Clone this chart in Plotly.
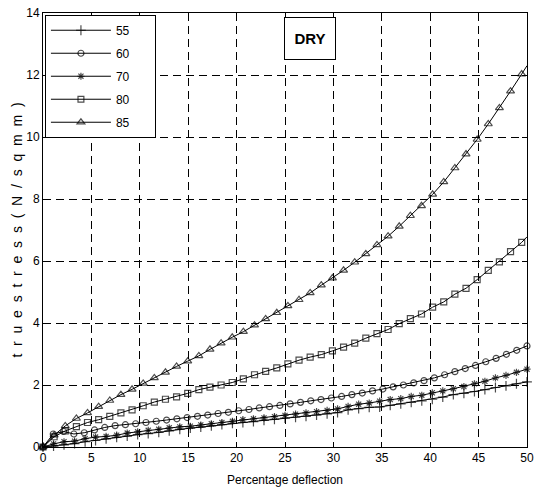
import plotly.graph_objects as go

# x grids (percentage deflection)
x_fine = [0, 1.09, 2.17, 3.26, 4.35, 5.43, 6.52, 7.61, 8.70, 9.78, 10.87, 11.96, 13.04, 14.13,
          15.22, 16.30, 17.39, 18.48, 19.57, 20.65, 21.74, 22.83, 23.91, 25.00, 26.09, 27.17,
          28.26, 29.35, 30.43, 31.52, 32.61, 33.70, 34.78, 35.87, 36.96, 38.04, 39.13, 40.22,
          41.30, 42.39, 43.48, 44.57, 45.65, 46.74, 47.83, 48.91, 50.0]
x_circ = [0, 1.06, 2.13, 3.19, 4.26, 5.32, 6.38, 7.45, 8.51, 9.57, 10.64, 11.70, 12.77, 13.83,
          14.89, 15.96, 17.02, 18.09, 19.15, 20.21, 21.28, 22.34, 23.40, 24.47, 25.53, 26.60,
          27.66, 28.72, 29.79, 30.85, 31.91, 32.98, 34.04, 35.11, 36.17, 37.23, 38.30, 39.36,
          40.43, 41.49, 42.55, 43.62, 44.68, 45.74, 46.81, 47.87, 48.94, 50.0]
x_coarse = [0, 1.15, 2.3, 3.45, 4.6, 5.75, 6.9, 8.05, 9.2, 10.35, 11.5, 12.65, 13.8, 14.95,
            16.1, 17.25, 18.4, 19.55, 20.7, 21.85, 23.0, 24.15, 25.3, 26.45, 27.6, 28.75,
            29.9, 31.05, 32.2, 33.35, 34.5, 35.65, 36.8, 37.95, 39.1, 40.25, 41.4, 42.55,
            43.7, 44.85, 46.0, 47.15, 48.3, 49.45, 50.0]

s55 = [0, 0.03, 0.07, 0.11, 0.17, 0.21, 0.26, 0.31, 0.35, 0.40, 0.43, 0.47, 0.52, 0.57,
       0.61, 0.64, 0.68, 0.72, 0.76, 0.79, 0.82, 0.86, 0.89, 0.93, 0.96, 0.99, 1.03, 1.07,
       1.11, 1.20, 1.24, 1.28, 1.29, 1.34, 1.39, 1.44, 1.49, 1.54, 1.61, 1.69, 1.73, 1.79,
       1.85, 1.92, 1.97, 2.04, 2.10]
s60 = [0, 0.42, 0.50, 0.42, 0.46, 0.55, 0.63, 0.69, 0.72, 0.75, 0.79, 0.83, 0.87, 0.91,
       0.95, 0.99, 1.03, 1.08, 1.12, 1.17, 1.21, 1.26, 1.30, 1.34, 1.39, 1.44, 1.49, 1.53,
       1.58, 1.63, 1.69, 1.74, 1.81, 1.87, 1.94, 2.00, 2.07, 2.14, 2.23, 2.33, 2.43, 2.53,
       2.63, 2.75, 2.86, 2.99, 3.12, 3.26]
s70 = [0, 0.10, 0.17, 0.19, 0.27, 0.32, 0.34, 0.38, 0.45, 0.49, 0.54, 0.57, 0.62, 0.65,
       0.67, 0.71, 0.75, 0.79, 0.83, 0.88, 0.91, 0.94, 0.98, 1.02, 1.06, 1.10, 1.14, 1.18,
       1.23, 1.31, 1.38, 1.42, 1.48, 1.53, 1.56, 1.63, 1.67, 1.75, 1.81, 1.88, 1.95, 2.04,
       2.12, 2.23, 2.31, 2.41, 2.51]
s80 = [0, 0.33, 0.52, 0.66, 0.79, 0.88, 0.99, 1.10, 1.20, 1.33, 1.45, 1.54, 1.62, 1.73,
       1.85, 1.93, 2.00, 2.08, 2.20, 2.33, 2.44, 2.55, 2.68, 2.80, 2.90, 2.98, 3.10, 3.22,
       3.35, 3.51, 3.66, 3.79, 3.98, 4.14, 4.29, 4.51, 4.68, 4.93, 5.12, 5.40, 5.70, 5.97,
       6.30, 6.60, 6.78]
s85 = [0, 0.38, 0.68, 0.92, 1.10, 1.30, 1.50, 1.69, 1.86, 2.05, 2.23, 2.41, 2.60, 2.77,
       2.94, 3.15, 3.35, 3.54, 3.72, 3.93, 4.13, 4.33, 4.55, 4.75, 4.97, 5.22, 5.45, 5.70,
       5.96, 6.23, 6.52, 6.80, 7.12, 7.46, 7.78, 8.15, 8.55, 9.00, 9.45, 9.92, 10.42, 10.94,
       11.48, 12.03, 12.30]

names = ["55", "60", "70", "80", "85"]
xticks = [0, 5, 10, 15, 20, 25, 30, 35, 40, 45, 50]
yticks = [0, 2, 4, 6, 8, 10, 12, 14]

FONT = "Liberation Sans, Arial, sans-serif"
NB = "\u00a0"
ytitle = (NB + NB).join(list("truestress(N/sqmm)"))

series = [
    (names[0], x_fine, s55, "cross-thin-open", 7, None),
    (names[1], x_circ, s60, "circle-open", 6, None),
    (names[2], x_fine, s70, "asterisk-open", 6, None),
    (names[3], x_coarse, s80, "square-open", 6, "last"),
    (names[4], x_coarse, s85, "triangle-up-open", 7, "last"),
]

fig = go.Figure()
for i, (nm, xs, ys, sym, sz, tail) in enumerate(series):
    sizes = [sz] * len(xs)
    if tail == "last":
        sizes[-1] = 0
    fig.add_trace(go.Scatter(
        x=xs, y=ys, name=nm + NB * 6, mode="lines+markers",
        legendgroup=nm, cliponaxis=False,
        line=dict(color="black", width=1),
        marker=dict(symbol=sym, size=sizes, color="black",
                    line=dict(color="black", width=1.2)),
    ))

fig.add_annotation(
    x=27.6, y=13.18, xref="x", yref="y", text="<b>DRY</b>", showarrow=False,
    font=dict(family="Liberation Sans, Arial, sans-serif", size=15, color="black"),
    bgcolor="white", bordercolor="black", borderwidth=1, borderpad=1,
    width=48, height=39,
)

axis_common = dict(
    showline=True, linecolor="black", linewidth=1, mirror="ticks",
    ticks="inside", ticklen=5, tickcolor="black", tickwidth=1,
    showgrid=True, gridcolor="black", gridwidth=1, griddash="8px,5px",
    zeroline=False, automargin=False,
    tickfont=dict(family=FONT, size=12, color="black"),
)

fig.update_xaxes(range=[0, 50], tickvals=xticks, ticktext=[str(v) for v in xticks],
                 title=dict(text="Percentage deflection", standoff=11,
                            font=dict(family=FONT, size=12, color="black")),
                 **axis_common)
fig.update_yaxes(range=[0, 14], tickvals=yticks, ticktext=[str(v) for v in yticks],
                 title=dict(text=ytitle, standoff=0,
                            font=dict(family=FONT, size=14, color="black")),
                 **axis_common)

fig.update_layout(
    width=537, height=490,
    margin=dict(l=43, r=10, t=13, b=43),
    paper_bgcolor="white", plot_bgcolor="white",
    showlegend=True,
    legend=dict(x=0.004, y=0.996, xanchor="left", yanchor="top",
                bgcolor="white", bordercolor="black", borderwidth=1,
                font=dict(family=FONT, size=12, color="black"),
                itemwidth=60, tracegroupgap=4, traceorder="grouped"),
)

# remove the default 8px page margin so the figure fills the window exactly
fig.write_html("out.html",
               config={"displayModeBar": False},
               post_script="document.body.style.margin='0';document.body.style.overflow='hidden';")
